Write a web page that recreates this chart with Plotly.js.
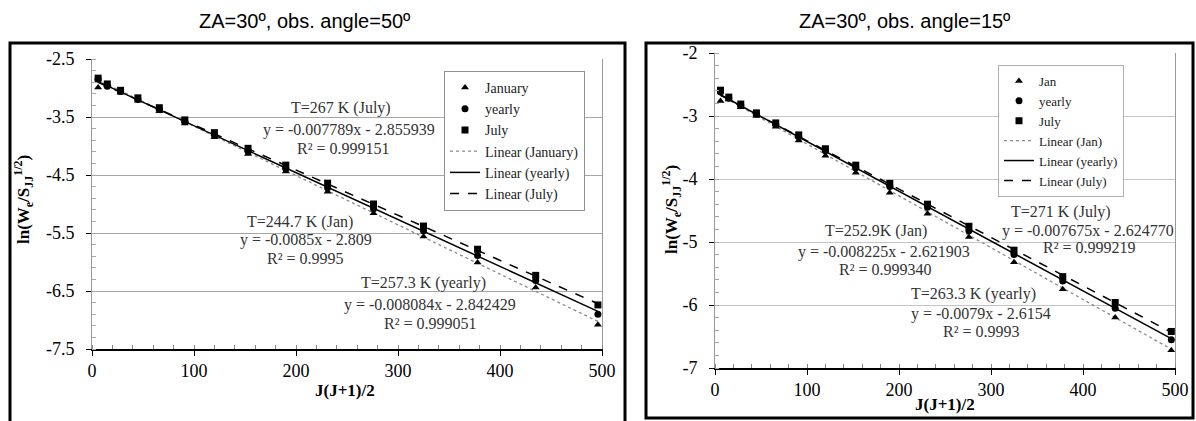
<!DOCTYPE html>
<html>
<head>
<meta charset="utf-8">
<script src="https://cdn.plot.ly/plotly-3.0.1.min.js"></script>
<style>html,body{margin:0;padding:0;background:#fff;}#chart{width:1196px;height:421px;}</style>
</head>
<body>
<div id="chart"></div>
<script>
// ---------- data ----------
const xJ = [6, 15, 28, 45, 66, 91, 120, 153, 190, 231, 276, 325, 378, 435, 496];

// left panel: ZA=30, obs. angle=50
const janL  = [-2.99, -2.95, -3.08, -3.22, -3.40, -3.61, -3.85, -4.14, -4.44, -4.79, -5.16, -5.56, -6.01, -6.44, -7.08];
const yearL = [-2.85, -2.97, -3.06, -3.20, -3.37, -3.58, -3.81, -4.09, -4.39, -4.72, -5.08, -5.46, -5.89, -6.32, -6.90];
const julL  = [-2.83, -2.93, -3.04, -3.17, -3.34, -3.55, -3.77, -4.04, -4.33, -4.64, -5.00, -5.38, -5.78, -6.23, -6.74];
const slopeL = [-0.0085, -0.008084, -0.007789];
const interL = [-2.809, -2.842429, -2.855939];

// right panel: ZA=30, obs. angle=15
const janR  = [-2.76, -2.74, -2.86, -3.00, -3.17, -3.39, -3.63, -3.90, -4.22, -4.55, -4.92, -5.32, -5.75, -6.20, -6.72];
const yearR = [-2.62, -2.72, -2.83, -2.97, -3.13, -3.33, -3.55, -3.82, -4.12, -4.45, -4.82, -5.20, -5.62, -6.05, -6.55];
const julR  = [-2.59, -2.70, -2.81, -2.95, -3.11, -3.30, -3.52, -3.78, -4.07, -4.40, -4.75, -5.13, -5.55, -5.96, -6.42];
const slopeR = [-0.008225, -0.0079, -0.007675];
const interR = [-2.621903, -2.6154, -2.624770];

// tick labels
const xTickVals = [0, 100, 200, 300, 400, 500];
const xTickText = ["0", "100", "200", "300", "400", "500"];
const yTickValsL = [-2.5, -3.5, -4.5, -5.5, -6.5, -7.5];
const yTickTextL = ["-2.5", "-3.5", "-4.5", "-5.5", "-6.5", "-7.5"];
const yTickValsR = [-2, -3, -4, -5, -6, -7];
const yTickTextR = ["-2", "-3", "-4", "-5", "-6", "-7"];

const namesL = ["January", "yearly", "July", "Linear (January)", "Linear (yearly)", "Linear (July)"];
const namesR = ["Jan", "yearly", "July", "Linear (Jan)", "Linear (yearly)", "Linear (July)"];

const titles = ["ZA=30º, obs. angle=50º", "ZA=30º, obs. angle=15º"];
const fitTextL = [
  ["T=267 K (July)", "y = -0.007789x - 2.855939", "R² = 0.999151"],
  ["T=244.7 K (Jan)", "y = -0.0085x - 2.809", "R² = 0.9995"],
  ["T=257.3 K (yearly)", "y = -0.008084x - 2.842429", "R² = 0.999051"]
];
const fitTextR = [
  ["T=271 K (July)", "y = -0.007675x - 2.624770", "R² = 0.999219"],
  ["T=252.9K (Jan)", "y = -0.008225x - 2.621903", "R² = 0.999340"],
  ["T=263.3 K (yearly)", "y = -0.0079x - 2.6154", "R² = 0.9993"]
];
const xTitle = "J(J+1)/2";
const yTitle = "ln(W<sub>e</sub>/S<sub>JJ</sub><sup>1/2</sup>)";

// ---------- helpers ----------
const W = 1196, H = 421;
const px = v => v / W;
const py = v => 1 - v / H;
const serif = "Liberation Serif";
const sans = "Liberation Sans";

function fitLine(slope, inter, xs) {
  const x0 = xs[0], x1 = xs[xs.length - 1];
  return { x: [x0, x1], y: [slope * x0 + inter, slope * x1 + inter] };
}

function panelTraces(xs, jan, yr, jul, slopes, inters, names, xa, ya, leg) {
  const mk = (sym) => ({ symbol: sym, size: 7, color: "#000" });
  const lJan = fitLine(slopes[0], inters[0], xs);
  const lYr = fitLine(slopes[1], inters[1], xs);
  const lJul = fitLine(slopes[2], inters[2], xs);
  return [
    { x: lJan.x, y: lJan.y, mode: "lines", name: names[3], legend: leg, legendrank: 4, xaxis: xa, yaxis: ya, line: { color: "#8a8a8a", width: 1.3, dash: "dot" } },
    { x: lYr.x, y: lYr.y, mode: "lines", name: names[4], legend: leg, legendrank: 5, xaxis: xa, yaxis: ya, line: { color: "#000", width: 1.5 } },
    { x: lJul.x, y: lJul.y, mode: "lines", name: names[5], legend: leg, legendrank: 6, xaxis: xa, yaxis: ya, line: { color: "#000", width: 1.5, dash: "dash" } },
    { x: xs, y: jan, mode: "markers", name: names[0], legend: leg, legendrank: 1, xaxis: xa, yaxis: ya, marker: mk("triangle-up") },
    { x: xs, y: yr, mode: "markers", name: names[1], legend: leg, legendrank: 2, xaxis: xa, yaxis: ya, marker: mk("circle") },
    { x: xs, y: jul, mode: "markers", name: names[2], legend: leg, legendrank: 3, xaxis: xa, yaxis: ya, marker: mk("square") }
  ];
}

const data = [
  ...panelTraces(xJ, janL, yearL, julL, slopeL, interL, namesL, "x", "y", "legend"),
  ...panelTraces(xJ, janR, yearR, julR, slopeR, interR, namesR, "x2", "y2", "legend2")
];

function xAxis(domain, anchor) {
  return {
    domain: domain, anchor: anchor, range: [0, 500],
    tickmode: "array", tickvals: xTickVals, ticktext: xTickText,
    showgrid: false, zeroline: false, showline: true, linecolor: "#000", linewidth: 1.5,
    ticks: "outside", ticklen: 5, tickcolor: "#000", tickwidth: 1,
    minor: { dtick: 20, tick0: 0, ticks: "inside", ticklen: 4, tickcolor: "#888", showgrid: false },
    tickfont: { family: serif, size: 18, color: "#000" }, automargin: false, fixedrange: true
  };
}
function yAxis(domain, anchor, range, vals, texts, gridcolor) {
  return {
    domain: domain, anchor: anchor, range: range,
    tickmode: "array", tickvals: vals, ticktext: texts,
    showgrid: true, gridcolor: gridcolor, gridwidth: 1, zeroline: false,
    showline: true, linecolor: "#999", linewidth: 1, mirror: true,
    ticks: "outside", ticklen: 5, tickcolor: "#000", tickwidth: 1, ticklabelstandoff: 8,
    minor: { dtick: 0.2, tick0: range[1], ticks: "inside", ticklen: 4, tickcolor: "#aaa", showgrid: false },
    tickfont: { family: serif, size: 18, color: "#000" }, automargin: false, fixedrange: true
  };
}

// plot-area pixel boxes
const LP = { x0: 92, x1: 602, y0: 59, y1: 349 };
const RP = { x0: 715, x1: 1175, y0: 53, y1: 368 };

const annots = [];
function txt(x, y, t, size, opts) {
  annots.push(Object.assign({
    xref: "paper", yref: "paper", x: px(x), y: py(y), text: t, showarrow: false,
    xanchor: "center", yanchor: "middle",
    font: { family: serif, size: size, color: "#333" }
  }, opts || {}));
}
// titles
txt(305, 21, titles[0], 20, { font: { family: sans, size: 20, color: "#000" } });
txt(905, 21, titles[1], 20, { font: { family: sans, size: 20, color: "#000" } });
// fit annotations left
const posL = [[[341, 108], [349, 130], [344, 148]], [[300, 222], [306, 240], [305, 258]], [[423, 283], [430, 305], [430, 323]]];
fitTextL.forEach((g, i) => g.forEach((t, j) => txt(posL[i][j][0], posL[i][j][1], t, 16)));
const posR = [[[1061, 212], [1088, 231], [1089, 248]], [[876, 231], [884, 252], [886, 269]], [[973, 294], [981, 314], [981, 331]]];
fitTextR.forEach((g, i) => g.forEach((t, j) => txt(posR[i][j][0], posR[i][j][1], t, 16)));
// axis titles
txt(345, 390, "<b>" + xTitle + "</b>", 17, { font: { family: serif, size: 17, color: "#000" } });
txt(945, 404, "<b>" + xTitle + "</b>", 17, { font: { family: serif, size: 17, color: "#000" } });
txt(23, 200, "<b>" + yTitle + "</b>", 17, { textangle: -90, font: { family: serif, size: 17, color: "#000" } });
txt(671, 210, "<b>" + yTitle + "</b>", 17, { textangle: -90, font: { family: serif, size: 17, color: "#000" } });

const shapes = [
  // outer frames
  { type: "rect", xref: "paper", yref: "paper", x0: px(10), x1: px(625), y0: py(430), y1: py(43), line: { color: "#000", width: 3 }, fillcolor: "rgba(0,0,0,0)", layer: "below" },
  { type: "rect", xref: "paper", yref: "paper", x0: px(646), x1: px(1193), y0: py(418), y1: py(43), line: { color: "#000", width: 3 }, fillcolor: "rgba(0,0,0,0)", layer: "below" }
];

const layout = {
  width: W, height: H, autosize: false,
  margin: { l: 0, r: 0, t: 0, b: 0, pad: 0 },
  font: { family: serif, size: 16, color: "#000" },
  paper_bgcolor: "#fff", plot_bgcolor: "rgba(0,0,0,0)",
  showlegend: true,
  xaxis: xAxis([px(LP.x0), px(LP.x1)], "y"),
  yaxis: yAxis([py(LP.y1), py(LP.y0)], "x", [-7.5, -2.5], yTickValsL, yTickTextL, "#a6a6a6"),
  xaxis2: xAxis([px(RP.x0), px(RP.x1)], "y2"),
  yaxis2: yAxis([py(RP.y1), py(RP.y0)], "x2", [-7, -2], yTickValsR, yTickTextR, "#c4c4c4"),
  legend: {
    x: px(444), y: py(71), xanchor: "left", yanchor: "top", bgcolor: "#fff",
    bordercolor: "#909090", borderwidth: 1, tracegroupgap: 0, traceorder: "normal",
    font: { family: serif, size: 14, color: "#222" }, itemwidth: 30
  },
  legend2: {
    x: px(998), y: py(65), xanchor: "left", yanchor: "top", bgcolor: "#fff",
    bordercolor: "#b0b0b0", borderwidth: 1, tracegroupgap: 0, traceorder: "normal",
    font: { family: serif, size: 13, color: "#222" }, itemwidth: 30
  },
  annotations: annots,
  shapes: shapes
};

Plotly.newPlot("chart", data, layout, { staticPlot: true, displayModeBar: false });
</script>
</body>
</html>
